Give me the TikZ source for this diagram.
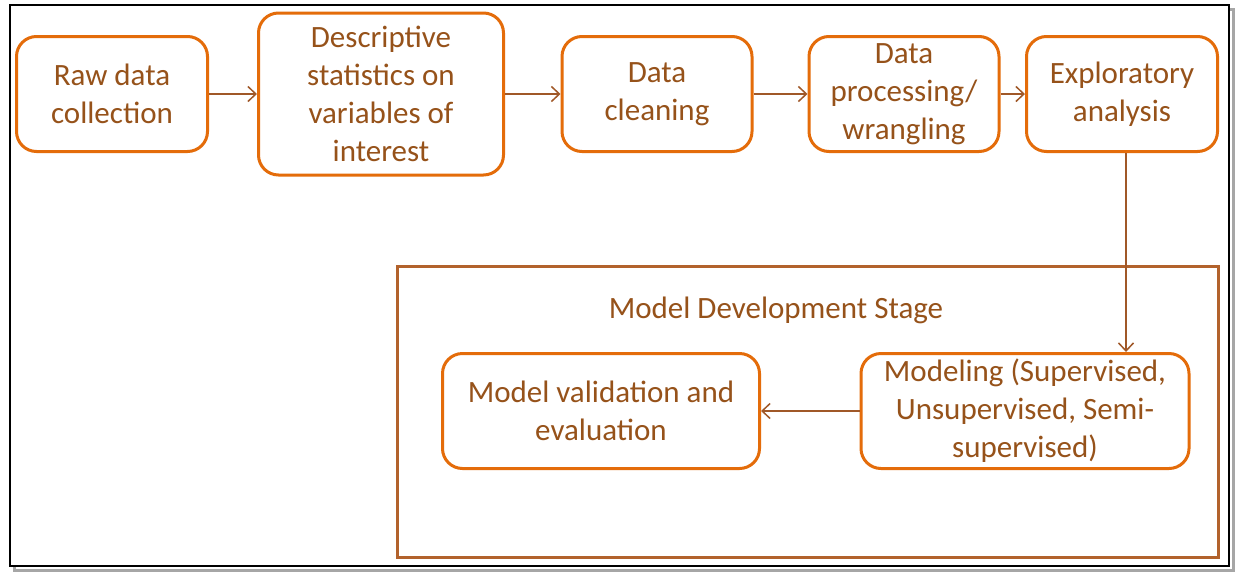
\documentclass[tikz,border=0pt]{standalone}
\usepackage{fontspec}
\setmainfont{Carlito}
\usepackage{tikz}
\usetikzlibrary{arrows.meta}

\definecolor{boxorange}{RGB}{228,108,10}
\definecolor{txtbrown}{RGB}{150,82,26}
\definecolor{linkbrown}{RGB}{160,88,40}
\definecolor{stagebrown}{RGB}{178,98,44}

\tikzset{
  stepbox/.style={draw=boxorange, line width=3pt, rounded corners=20pt, fill=white,
    text=txtbrown, align=center, inner sep=0pt, font=\fontsize{31}{38}\selectfont},
  link/.style={draw=linkbrown, line width=1.5pt, -{Straight Barb[length=8pt,width=15pt]}}
}

\begin{document}
\begin{tikzpicture}[x=1pt,y=-1pt]
\useasboundingbox (0,0) rectangle (1236,571);

\draw[gray!70, line width=3pt] (14,9) rectangle (1233,570);
\draw[black, line width=2.5pt, fill=white] (10,5) rectangle (1229,566);

\draw[stagebrown, line width=3pt] (397,266) rectangle (1218,557);
\node[text=txtbrown, font=\fontsize{31}{38}\selectfont] (stage) at (776,310) {Model Development Stage};

\node[stepbox, minimum width=191pt, minimum height=115pt] (raw) at (112,94) {Raw data\\collection};
\node[stepbox, minimum width=245pt, minimum height=162pt] (desc) at (381,94) {Descriptive\\statistics on\\variables of\\interest};
\node[stepbox, minimum width=190pt, minimum height=115pt] (clean) at (657,94) {Data\\cleaning};
\node[stepbox, minimum width=190pt, minimum height=115pt] (wrang) at (904,94) {Data\\processing/\\wrangling};
\node[stepbox, minimum width=191pt, minimum height=115pt] (explo) at (1122,94) {Exploratory\\analysis};

\node[stepbox, minimum width=317pt, minimum height=115pt] (valid) at (601,411) {Model validation and\\evaluation};
\node[stepbox, minimum width=328pt, minimum height=115pt] (model) at (1025,411) {Modeling (Supervised,\\Unsupervised, Semi-\\supervised)};

\draw[link] (raw) -- (desc);
\draw[link] (desc) -- (clean);
\draw[link] (clean) -- (wrang);
\draw[link] (wrang) -- (explo);
\draw[link] (explo.south -| 1126,0) -- (model.north -| 1126,0);
\draw[link] (model) -- (valid);

\end{tikzpicture}
\end{document}
